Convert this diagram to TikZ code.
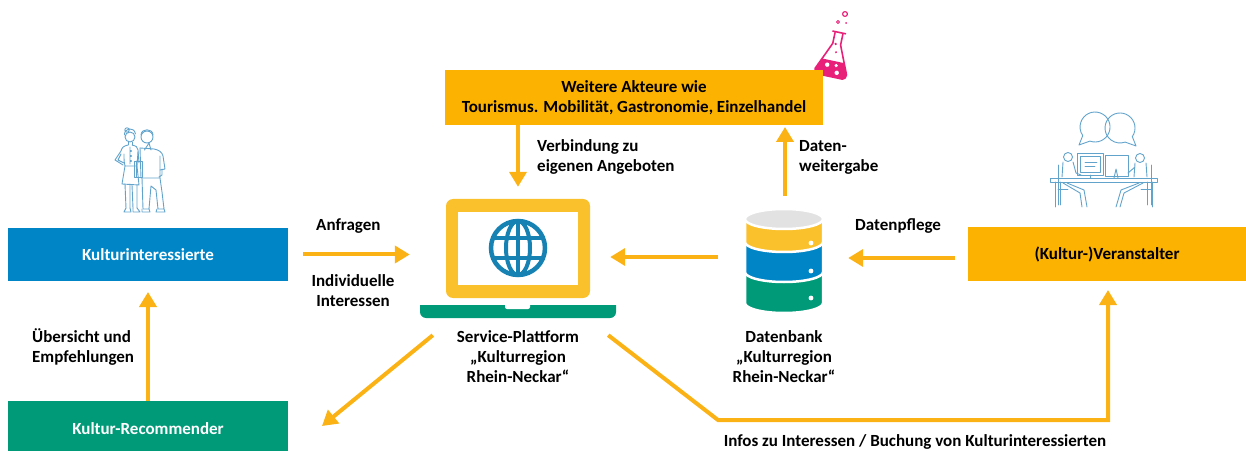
\documentclass[tikz,border=0pt]{standalone}
\usepackage{fontspec}
\setmainfont{Carlito}
\usetikzlibrary{arrows.meta,calc}

\definecolor{kblue}{RGB}{0,134,199}
\definecolor{kgreen}{RGB}{0,154,121}
\definecolor{korange}{RGB}{252,178,0}
\definecolor{arrowc}{RGB}{251,178,20}
\definecolor{lapy}{RGB}{251,193,45}
\definecolor{globec}{RGB}{22,130,180}
\definecolor{dbgray}{RGB}{226,226,226}
\definecolor{sketchc}{RGB}{98,163,204}
\definecolor{flaskc}{RGB}{233,32,122}

\begin{document}
\begin{tikzpicture}[x=1pt,y=1pt,
  lbl/.style={font=\fontsize{17}{20}\selectfont\bfseries, inner sep=0pt},
  box/.style={lbl, inner sep=0pt, outer sep=0pt},
  arr/.style={draw=arrowc, line width=4pt, -{Triangle[width=17pt,length=15pt]}},
  sketch/.style={draw=sketchc, line width=0.9pt, line cap=round, line join=round},
  flask/.style={draw=flaskc, line width=1.6pt, line cap=round, line join=round},
]
\useasboundingbox (0,0) rectangle (1246,450);

% ---------- flask (behind the box of further actors)
\begin{scope}[shift={(835,398)}, rotate=-12]
  \path[clip] (-4,19) -- (-4,8) -- (-16,-20) to[out=-80,in=180] (-13,-25) -- (13,-25) to[out=0,in=-100] (16,-20) -- (4,8) -- (4,19) -- cycle;
  \fill[flaskc] (-20,-9) rectangle (20,-27);
  \fill[white] (-5,-14) circle[radius=2.2] (4,-13) circle[radius=1.8] (6,-20) circle[radius=2.2];
\end{scope}
\begin{scope}[shift={(835,398)}, rotate=-12]
  \draw[flask] (-4,19) -- (-4,8) -- (-16,-20) to[out=-80,in=180] (-13,-25) -- (13,-25) to[out=0,in=-100] (16,-20) -- (4,8) -- (4,19);
  \draw[flask] (-6.5,20) -- (6.5,20);
  \fill[flaskc] (-1,8) circle[radius=1.3] (1,0) circle[radius=1.1];
\end{scope}
\draw[flask, line width=1.2pt] (845,436) circle[radius=2.4];
\draw[flask, line width=1pt] (838,428) circle[radius=1.5];
\fill[flaskc] (846,427) circle[radius=1];

% ---------- boxes
\node[box, fill=kblue, text=white, minimum width=280pt, minimum height=53pt] (ki) at (148,195.5) {Kulturinteressierte};
\node[box, fill=kgreen, text=white, minimum width=280pt, minimum height=56pt] (kr) at (148,21) {Kultur-Recommender};
\node[box, fill=korange, align=center, minimum width=378pt, minimum height=55pt] (wa) at (634,352.5) {Weitere Akteure wie\\Tourismus. Mobilität, Gastronomie, Einzelhandel};
\node[box, fill=korange, minimum width=278pt, minimum height=54pt] (va) at (1107,196) {(Kultur-)Veranstalter};

% ---------- laptop (service platform)
\node[inner sep=0pt, minimum width=196pt, minimum height=119pt] (laptop) at (518,191.5) {};
\fill[lapy, rounded corners=7pt] (446,152) rectangle (590,251);
\fill[white] (458,165) rectangle (578,238);
\begin{scope}
  \clip (518,202) circle[radius=27];
  \draw[globec, line width=4pt] (518,202) ellipse[x radius=12, y radius=27];
  \draw[globec, line width=4pt] (518,170) -- (518,234);
  \draw[globec, line width=4pt] (488,212) -- (548,212);
  \draw[globec, line width=4pt] (488,192) -- (548,192);
\end{scope}
\draw[globec, line width=4.5pt] (518,202) circle[radius=27];
\fill[kgreen] (420,145) [rounded corners=6pt] -- (420,132) -- (616,132) [sharp corners] -- (616,145) -- cycle;
\fill[white, rounded corners=2pt] (505,148) -- (505,141) -- (530,141) -- (530,148) -- cycle;

% ---------- database
\node[inner sep=0pt, minimum width=78pt, minimum height=104pt] (db) at (784,189) {};
\begin{scope}[draw=white, line width=2.5pt]
  \filldraw[fill=kgreen] (745,231) -- (745,147) arc[start angle=180, end angle=360, x radius=39, y radius=10] -- (823,231) -- cycle;
  \filldraw[fill=kblue] (745,231) -- (745,178) arc[start angle=180, end angle=360, x radius=39, y radius=10] -- (823,231) -- cycle;
  \filldraw[fill=lapy] (745,231) -- (745,208) arc[start angle=180, end angle=360, x radius=39, y radius=10] -- (823,231) -- cycle;
  \filldraw[fill=dbgray] (784,231) ellipse[x radius=39, y radius=10];
\end{scope}
\fill[white] (811,207) circle[radius=2.4] (811,179) circle[radius=2.4] (811,152) circle[radius=2.4];

% ---------- people above the interested visitors
\begin{scope}[sketch]
  % woman
  \draw (130,313) circle[radius=5];
  \draw (124.5,315) .. controls (124,322) and (134,324) .. (135.5,316) (127,320) circle[radius=2.2];
  \draw (128,308) -- (128,305) (132,308) -- (132,305);
  \draw (128,305) .. controls (124,304) and (122,303) .. (121,299) -- (115,290) -- (123,285)
        (121,296) -- (118,290) -- (124,287);
  \draw (132,305) .. controls (136,304) and (138,303) .. (138,300) -- (139,287);
  \draw (124,296) .. controls (124,290) and (124,287) .. (125,284) -- (137,284) -- (138,298);
  \draw (130,303) -- (130,286) (131,299) circle[radius=0.5] (131,294) circle[radius=0.5] (131,289) circle[radius=0.5];
  \draw (125,284) -- (122,266) -- (139,265) -- (137,284);
  \draw (125,266) -- (126,242) (130,266) -- (130,242) (132,265) -- (133,242) (137,265) -- (137,242);
  \draw (126,242) -- (124,238) -- (131,238) -- (130,242) (133,242) -- (133,238) -- (140,238) -- (137,242);
  % man
  \draw (147,313) circle[radius=6];
  \draw (141,315) .. controls (141,322) and (153,322) .. (153,315);
  \draw (144.5,300) -- (149,307) -- (151,300);
  \draw (140,302) -- (154,301) .. controls (159,300) and (162,298) .. (163,294) -- (165,281) -- (160,280);
  \draw (160,294) -- (160,272) -- (141,272) -- (140,302);
  \draw (162,281) -- (162,275) -- (159,273);
  \draw (134,273) rectangle (142,289) (136,273) -- (136,289);
  \draw (142,272) -- (143,241) -- (149,241) -- (151,264) -- (156,260) -- (158,241) -- (164,241) -- (162,258) -- (160,272);
  \draw (142,241) -- (142,238) -- (150,238) -- (149,241) (157,241) -- (156,238) -- (165,238) -- (164,241);
\end{scope}

% ---------- office scene above the organisers
\begin{scope}[sketch]
  \draw (1089.9,308.9) arc[start angle=250, end angle=575, radius=15] -- (1079,305) -- cycle;
  \draw (1132.3,313.4) arc[start angle=-35, end angle=290, radius=15] -- (1136,304) -- cycle;
\end{scope}
\begin{scope}[sketch, yshift=95pt]
  % desk
  \draw (1050,173) rectangle (1157,177);
  \draw (1055,173) -- (1055,148) (1152,173) -- (1152,148) (1060,173) -- (1060,150) (1147,173) -- (1147,150);
  % monitors
  \draw (1077,180) rectangle (1103,202);
  \draw (1080,183) rectangle (1100,199);
  \draw (1085,193) -- (1097,193) (1085,189) -- (1095,189);
  \draw (1090,180) -- (1090,177);
  \draw (1105,179) rectangle (1128,200);
  \draw (1114,177) -- (1116,186) -- (1118,177);
  % left person
  \draw (1068,198) circle[radius=4.5];
  \draw (1063,193) -- (1062,178) (1073,193) -- (1076,182) -- (1081,180);
  \draw (1058,190) -- (1058,150) (1058,166) -- (1068,166);
  \draw (1063,172) -- (1080,162) -- (1082,148) (1067,172) -- (1084,165) -- (1087,148);
  % right person
  \draw (1140,197) circle[radius=4.5];
  \draw (1135,192) -- (1134,178) (1146,192) -- (1147,178) (1135,188) -- (1128,182);
  \draw (1151,190) -- (1151,150) (1141,166) -- (1151,166);
  \draw (1143,172) -- (1124,162) -- (1120,148) (1139,172) -- (1121,165) -- (1116,148);
\end{scope}

% ---------- labels under laptop and database
\node[lbl, align=center] (plt) at (518,93) {Service-Plattform\\„Kulturregion\\Rhein-Neckar“};
\node[lbl, align=center] (dbl) at (784,93) {Datenbank\\„Kulturregion\\Rhein-Neckar“};

% ---------- connectors
\draw[arr] ([xshift=15pt]ki.east) -- ($(ki.east -| laptop.west)+(-10,0)$);
\draw[arr] ($(db.west)+(-27,4)$) -- ($(db.west -| laptop.east)+(-6,4)$);
\draw[arr] ($(va.west)+(-13,-4)$) -- ($(db.east)+(25,3)$);
\draw[arr] (wa.south -| laptop.north) -- ($(laptop.north)+(0,12)$);
\draw[arr] ($(db.north)+(1,13)$) -- ($(db.north |- wa.south)+(1,-2)$);
\draw[arr] (kr.north) -- ($(ki.south)+(0,-11)$);
\draw[arr] ($(laptop.south west)+(13,-17)$) -- ($(kr.east)+(34,3)$);
\coordinate (bend) at (718,30);
\coordinate (vtip) at ($(va.south)+(1,-9)$);
\draw[arr] ($(laptop.south east)+(-8,-17)$) -- (bend) -- (bend -| vtip) -- (vtip);

% ---------- connector labels
\node[lbl, anchor=west] (l1) at (316,224) {Anfragen};
\node[lbl, align=center] (l2) at (353,159) {Individuelle\\Interessen};
\node[lbl, anchor=west, align=left] (l3) at (32,103) {Übersicht und\\Empfehlungen};
\node[lbl, anchor=west, align=left] (l4) at (537,293) {Verbindung zu\\eigenen Angeboten};
\node[lbl, anchor=west, align=left] (l5) at (799,293) {Daten-\\weitergabe};
\node[lbl, anchor=west] (l6) at (855,224) {Datenpflege};
\node[lbl] (l7) at (915,8) {Infos zu Interessen / Buchung von Kulturinteressierten};
\end{tikzpicture}
\end{document}
